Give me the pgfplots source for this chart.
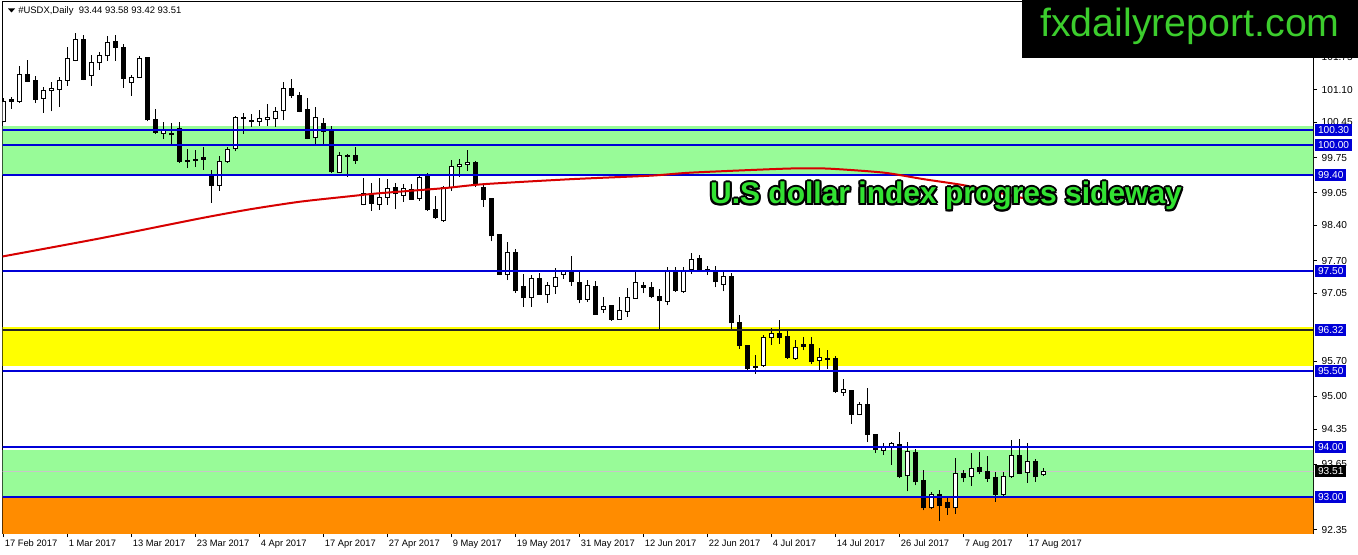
\documentclass[border=0pt]{standalone}
\usepackage{pgfplots}
\usepackage{pgfplotstable}
\pgfplotsset{compat=1.18}
\usepackage{fontspec}
\setmainfont{Liberation Sans}

\definecolor{zonegreen}{RGB}{152,251,152}
\definecolor{zoneyellow}{RGB}{255,255,0}
\definecolor{zoneorange}{RGB}{255,140,0}
\definecolor{lvlblue}{RGB}{0,0,215}
\definecolor{mared}{RGB}{215,0,0}
\definecolor{fxgreen}{RGB}{60,205,45}
\definecolor{titlegreen}{RGB}{50,225,50}

% bullish candles: index, open, high, low, close
\pgfplotstableread{
i o h l c
0 100.47 100.94 100.45 100.87
2 100.87 101.58 100.83 101.41
5 100.93 101.16 100.64 101.08
6 101.08 101.26 100.67 101.12
7 101.10 101.36 100.75 101.29
8 101.29 101.95 101.18 101.71
9 101.68 102.23 101.66 102.10
11 101.39 101.79 101.18 101.64
12 101.63 101.85 101.50 101.77
13 101.77 102.17 101.67 102.04
16 101.24 101.39 100.98 101.34
17 101.34 101.77 101.33 101.71
20 100.23 100.45 100.11 100.28
27 99.19 99.78 99.09 99.67
28 99.67 99.96 99.65 99.91
29 99.93 100.57 99.87 100.54
32 100.47 100.70 100.38 100.52
33 100.50 100.82 100.37 100.55
34 100.52 100.75 100.36 100.67
35 100.68 101.25 100.49 101.12
39 100.14 100.75 100.00 100.54
42 99.45 99.85 99.44 99.80
45 98.82 99.34 98.80 99.03
47 98.82 99.34 98.71 98.96
48 98.96 99.32 98.81 99.14
50 98.99 99.22 98.87 99.13
52 98.94 99.40 98.89 99.36
55 98.49 99.18 98.47 99.16
56 99.16 99.70 99.09 99.58
57 99.58 99.73 99.37 99.62
58 99.62 99.90 99.49 99.66
63 97.43 98.06 97.31 97.86
66 96.97 97.41 96.78 97.35
68 97.02 97.28 96.86 97.20
69 97.19 97.56 97.04 97.37
70 97.43 97.50 97.33 97.48
73 96.93 97.31 96.88 97.21
75 96.73 96.97 96.66 96.79
77 96.53 96.97 96.52 96.71
78 96.69 97.15 96.58 96.97
79 96.95 97.48 96.94 97.27
83 96.89 97.57 96.81 97.48
85 97.08 97.58 97.06 97.50
86 97.53 97.86 97.43 97.73
90 97.23 97.48 97.09 97.39
95 95.61 96.23 95.59 96.18
96 96.17 96.35 96.03 96.25
99 95.76 96.13 95.73 95.97
102 95.72 95.97 95.52 95.77
105 95.08 95.34 95.01 95.14
107 94.64 94.88 94.62 94.83
110 93.93 94.07 93.83 93.98
111 93.98 94.10 93.64 94.07
113 93.42 94.09 93.11 93.91
116 92.78 93.10 92.75 93.05
119 92.78 93.77 92.67 93.47
121 93.40 93.87 93.22 93.57
125 93.05 93.50 93.01 93.40
126 93.40 94.13 93.38 93.82
128 93.49 94.07 93.28 93.71
130 93.44 93.58 93.42 93.51
}\bulltable

% bearish candles
\pgfplotstableread{
i o h l c
1 100.90 100.96 100.72 100.87
3 101.41 101.69 101.25 101.27
4 101.29 101.38 100.83 100.91
10 102.10 102.18 101.29 101.31
14 102.06 102.18 101.67 101.94
15 101.94 102.00 101.14 101.33
18 101.73 101.74 100.47 100.50
19 100.51 100.72 100.22 100.25
21 100.22 100.44 100.00 100.20
22 100.32 100.45 99.64 99.68
23 99.70 99.91 99.54 99.67
24 99.72 99.90 99.56 99.70
25 99.75 99.96 99.51 99.72
26 99.42 99.50 98.85 99.20
30 100.55 100.64 100.22 100.53
31 100.49 100.62 100.36 100.47
36 101.12 101.31 100.93 100.98
37 100.98 101.06 100.65 100.67
38 100.70 100.93 100.11 100.13
40 100.43 100.54 100.00 100.27
41 100.31 100.37 99.44 99.47
43 99.79 99.82 99.37 99.77
44 99.80 99.95 99.63 99.70
46 99.01 99.24 98.69 98.84
49 99.15 99.25 98.72 99.04
51 99.12 99.22 98.91 98.92
53 99.40 99.45 98.69 98.71
54 98.71 98.99 98.53 98.55
59 99.66 99.69 99.17 99.22
60 99.16 99.25 98.77 98.92
61 98.94 98.95 98.08 98.19
62 98.21 98.22 97.41 97.43
64 97.86 97.93 97.06 97.10
65 97.19 97.43 96.78 96.96
67 97.35 97.46 97.02 97.03
71 97.46 97.80 97.20 97.28
72 97.27 97.48 96.85 96.93
74 97.19 97.30 96.62 96.63
76 96.81 96.82 96.50 96.53
80 97.21 97.28 97.05 97.17
81 97.17 97.27 96.95 96.99
82 96.98 97.13 96.33 96.90
84 97.48 97.58 97.08 97.11
87 97.75 97.81 97.52 97.53
88 97.53 97.59 97.42 97.49
89 97.51 97.59 97.17 97.28
91 97.39 97.45 96.33 96.46
92 96.47 96.61 95.95 96.01
93 96.01 96.02 95.51 95.55
94 95.60 95.82 95.45 95.58
97 96.25 96.51 96.05 96.18
98 96.19 96.31 95.75 95.78
100 96.04 96.18 95.92 96.00
101 96.03 96.18 95.65 95.70
103 95.76 95.93 95.55 95.74
104 95.75 95.80 95.07 95.09
106 95.12 95.13 94.46 94.64
108 94.83 95.17 94.09 94.25
109 94.25 94.26 93.87 93.95
112 94.05 94.29 93.37 93.40
114 93.89 93.95 93.23 93.30
115 93.33 93.53 92.73 92.78
117 93.05 93.13 92.52 92.83
118 92.88 93.02 92.65 92.78
120 93.47 93.53 93.29 93.38
122 93.59 93.89 93.45 93.50
123 93.50 93.81 93.30 93.37
124 93.39 93.50 92.90 93.05
127 93.82 94.15 93.45 93.47
129 93.71 93.75 93.30 93.40
}\beartable

\pgfplotsset{
  ebar/.style={only marks, mark=*, mark size=0pt,
    mark options={draw opacity=0, fill opacity=0},
    error bars/.cd, y dir=plus, y explicit, error mark=none,
    error bar style={#1}},
}
\newcommand\lblfont{\fontsize{7}{8}\selectfont}
\newcommand\yfont{\fontsize{7.6}{8}\selectfont}

\begin{document}
\begin{tikzpicture}
\useasboundingbox (0,0) rectangle (1018.5pt,415.5pt);
\begin{axis}[
    at={(1.875pt,15.75pt)}, anchor=south west,
    scale only axis,
    width=982.875pt, height=398.25pt,
    xmin=-0.125, xmax=163.6875,
    ymin=92.2824, ymax=102.8432,
    axis line style={black, line width=0.75pt},
    tick align=outside,
    major tick length=3pt,
    tick style={black, line width=0.75pt},
    xtick pos=bottom, ytick pos=right,
    yticklabel pos=right,
    ytick={92.35,93.65,94.35,95.00,95.70,97.05,97.70,98.40,99.05,99.75,100.45,101.10,101.75,102.45},
    xtick={0,8,...,128},
    xticklabels={17 Feb 2017,1 Mar 2017,13 Mar 2017,23 Mar 2017,4 Apr 2017,17 Apr 2017,27 Apr 2017,9 May 2017,19 May 2017,31 May 2017,12 Jun 2017,22 Jun 2017,4 Jul 2017,14 Jul 2017,26 Jul 2017,7 Aug 2017,17 Aug 2017},
    x tick label style={font=\lblfont, anchor=north west, xshift=-2.5pt, yshift=1.5pt},
    y tick label style={font=\yfont},
    /pgf/number format/.cd, fixed, fixed zerofill, precision=2, assume math mode=true,
]
% zones
\addplot[fill=zonegreen, draw=none] coordinates {(-1,99.40) (170,99.40) (170,100.38) (-1,100.38)};
\addplot[fill=zoneyellow, draw=none] coordinates {(-1,95.60) (170,95.60) (170,96.37) (-1,96.37)};
\addplot[fill=zonegreen, draw=none] coordinates {(-1,93.00) (170,93.00) (170,93.93) (-1,93.93)};
\addplot[fill=zoneorange, draw=none] coordinates {(-1,92.0) (170,92.0) (170,93.00) (-1,93.00)};
% current price line
\addplot[color=black!22, line width=0.75pt] coordinates {(-1,93.51) (170,93.51)};

% wicks
\addplot[ebar={draw=black, line width=0.75pt}] table[x=i, y=l, y error expr=\thisrow{h}-\thisrow{l}] {\beartable};
\addplot[ebar={draw=black, line width=0.75pt}] table[x=i, y=l, y error expr=\thisrow{h}-\thisrow{l}] {\bulltable};
% bodies
\addplot[ebar={draw=black, line width=3.75pt}] table[x=i, y expr=\thisrow{c}-0.01, y error expr=\thisrow{o}-\thisrow{c}+0.02] {\beartable};
\addplot[ebar={draw=black, line width=3.75pt}] table[x=i, y expr=\thisrow{o}-0.01, y error expr=\thisrow{c}-\thisrow{o}+0.02] {\bulltable};
\addplot[ebar={draw=white, line width=2.25pt}] table[x=i, y expr=\thisrow{o}+0.01, y error expr={max(\thisrow{c}-\thisrow{o}-0.02,0)}] {\bulltable};

% levels
\addplot[lvlblue, line width=1.5pt] coordinates {(-1,100.30) (170,100.30)};
\addplot[lvlblue, line width=1.5pt] coordinates {(-1,100.00) (170,100.00)};
\addplot[lvlblue, line width=1.5pt] coordinates {(-1,99.40) (170,99.40)};
\addplot[lvlblue, line width=1.5pt] coordinates {(-1,97.50) (170,97.50)};
\addplot[black!85, line width=1.5pt] coordinates {(-1,96.32) (170,96.32)};
\addplot[lvlblue, line width=1.5pt] coordinates {(-1,95.50) (170,95.50)};
\addplot[lvlblue, line width=1.5pt] coordinates {(-1,94.00) (170,94.00)};
\addplot[lvlblue, line width=1.5pt] coordinates {(-1,93.00) (170,93.00)};

% moving average
\addplot[mared, line width=1.5pt, smooth, tension=0.4] coordinates {
  (-0.2,97.78) (12,98.14) (24.6,98.54) (30.8,98.72) (37,98.87) (43.3,98.98)
  (47,99.04) (55,99.14) (60,99.22) (71,99.32) (81,99.39) (86,99.45)
  (98,99.53) (103,99.53) (110,99.45) (115,99.32) (120,99.20) (125,99.03) (130,98.85)};

\coordinate (p1) at (axis cs:163.6875,100.30);
\coordinate (p2) at (axis cs:163.6875,100.00);
\coordinate (p3) at (axis cs:163.6875,99.40);
\coordinate (p4) at (axis cs:163.6875,97.50);
\coordinate (p5) at (axis cs:163.6875,96.32);
\coordinate (p6) at (axis cs:163.6875,95.50);
\coordinate (p7) at (axis cs:163.6875,94.00);
\coordinate (p8) at (axis cs:163.6875,93.51);
\coordinate (p9) at (axis cs:163.6875,93.00);
\end{axis}

\tikzset{pbox/.style={fill=#1, text=white, font=\yfont, inner xsep=2pt, inner ysep=1.8pt, anchor=west, xshift=1.6pt}}
\node[pbox=lvlblue] at (p1) {100.30};
\node[pbox=lvlblue] at (p2) {100.00};
\node[pbox=lvlblue] at (p3) {99.40};
\node[pbox=lvlblue] at (p4) {97.50};
\node[pbox=lvlblue] at (p5) {96.32};
\node[pbox=lvlblue] at (p6) {95.50};
\node[pbox=lvlblue] at (p7) {94.00};
\node[pbox=black] at (p8) {93.51};
\node[pbox=lvlblue] at (p9) {93.00};

\begin{scope}[x=0.75pt, y=-0.75pt, shift={(0pt,415.5pt)}]
  % header
  \fill[black] (8,8.5) -- (15,8.5) -- (11.5,12.5) -- cycle;
  \node[font=\fontsize{7.1}{8}\selectfont, anchor=west, inner sep=0pt] at (18,11) {\#USDX,Daily\ \ 93.44 93.58 93.42 93.51};
  % banner
  \fill[black] (1022,0) rectangle (1358,58);
  \node[font=\fontsize{29.5}{30}\selectfont, text=fxgreen, anchor=base, inner sep=0pt] at (1190,37) {fxdailyreport.com};
  % outlined comment
  \foreach \a in {0,30,...,330}
    \node[font=\fontsize{22.5}{24}\selectfont\bfseries, text=black, anchor=base, inner sep=0pt,
          xshift={1.5*cos(\a)*1pt}, yshift={1.5*sin(\a)*1pt}] at (946,204) {U.S dollar index progres sideway};
  \node[font=\fontsize{22.5}{24}\selectfont\bfseries, text=titlegreen, anchor=base, inner sep=0pt] at (946,204) {U.S dollar index progres sideway};
\end{scope}
\end{tikzpicture}
\end{document}
